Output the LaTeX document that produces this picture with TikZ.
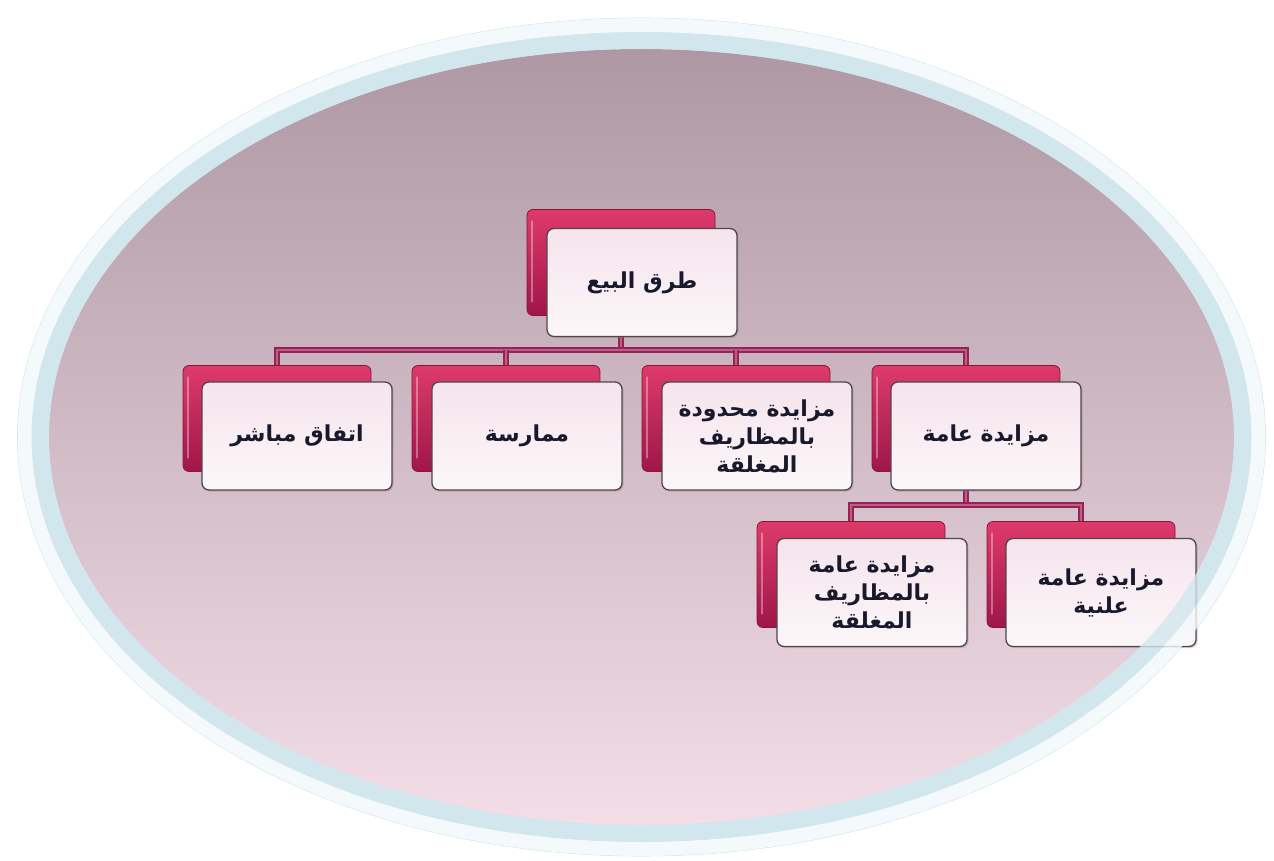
\documentclass[tikz,border=0pt]{standalone}
\usepackage{fontspec}
\newfontfamily\arabicfont[Script=Arabic]{DejaVu Sans}
\TeXXeTstate=1
\usetikzlibrary{shadows}
\definecolor{magtop}{RGB}{222,58,108}
\definecolor{magbot}{RGB}{160,22,72}
\definecolor{magdraw}{RGB}{135,20,60}
\definecolor{fronttop}{RGB}{245,228,236}
\definecolor{frontbot}{RGB}{252,247,249}
\definecolor{frontdraw}{RGB}{80,70,76}
\definecolor{textcol}{RGB}{25,25,45}
\definecolor{connout}{RGB}{145,38,85}
\definecolor{connin}{RGB}{192,92,134}
\definecolor{ringblue}{RGB}{210,231,237}
\definecolor{ringwhite}{RGB}{244,250,251}
\definecolor{ringline}{RGB}{200,222,228}
\definecolor{purtop}{RGB}{174,152,163}
\definecolor{purmid}{RGB}{204,178,191}
\definecolor{purbot}{RGB}{243,221,231}
\begin{document}
\begin{tikzpicture}[x=1pt,y=-1pt,
  backbox/.style={rectangle, rounded corners=6pt, minimum width=188pt, minimum height=106pt,
    top color=magtop, bottom color=magbot, draw=magdraw, line width=0.8pt, inner sep=0pt,
    path picture={\draw[white, opacity=0.35, line width=2.5pt, line cap=round]
      ([xshift=5pt,yshift=-12pt]path picture bounding box.north west) --
      ([xshift=5pt,yshift=14pt]path picture bounding box.south west);}},
  frontbox/.style={rectangle, rounded corners=7pt, minimum width=190pt, minimum height=108pt,
    top color=fronttop, bottom color=frontbot, draw=frontdraw, line width=1.3pt, inner sep=0pt,
    drop shadow={opacity=0.35, shadow xshift=1.5pt, shadow yshift=-1.5pt},
    align=center, text=textcol, font=\arabicfont\bfseries\fontsize{22}{28}\selectfont},
  conn/.style={draw=connout, double=connin, line width=1.5pt, double distance=2.6pt}
]
\useasboundingbox (0,0) rectangle (1274,861);
\fill[white] (0,0) rectangle (1274,861);
% ellipse rings
\coordinate (c) at (641.5,437);
\fill[ringwhite] (c) ellipse [x radius=624pt, y radius=419pt];
\draw[ringline, line width=0.6pt] (c) ellipse [x radius=624pt, y radius=419pt];
\fill[ringblue] (c) ellipse [x radius=610pt, y radius=405pt];
\shade[top color=purtop, middle color=purmid, bottom color=purbot]
  (c) ellipse [x radius=592.5pt, y radius=388pt];
% back boxes
\coordinate (bus1) at (0,350);
\coordinate (bus2) at (0,505);
\node[backbox] (rb) at (621,262.5) {};
\node[backbox] (b1) at (277,418.5) {};
\node[backbox] (b2) at (506,418.5) {};
\node[backbox] (b3) at (736,418.5) {};
\node[backbox] (b4) at (966,418.5) {};
\node[backbox] (b5) at (851,574.5) {};
\node[backbox] (b6) at (1081,574.5) {};
% connectors
\draw[conn] (rb.south) -- (rb.south |- bus1);
\draw[conn] (b1.north) |- (b4.north |- bus1) -- (b4.north);
\draw[conn] (b2.north) -- (b2.north |- bus1);
\draw[conn] (b3.north) -- (b3.north |- bus1);
\draw[conn] (b4.south) -- (b4.south |- bus2);
\draw[conn] (b5.north) |- (b6.north |- bus2) -- (b6.north);
% front boxes
\node[frontbox] (fr) at (642,282.5) {\beginR طرق البيع\endR};
\node[frontbox] (f1) at (297,436) {\beginR اتفاق مباشر\endR};
\node[frontbox] (f2) at (527,436) {\beginR ممارسة\endR};
\node[frontbox] (f3) at (757,436) {\beginR مزايدة محدودة\endR\\\beginR بالمظاريف\endR\\\beginR المغلقة\endR};
\node[frontbox] (f4) at (986,436) {\beginR مزايدة عامة\endR};
\node[frontbox] (f5) at (872,592.5) {\beginR مزايدة عامة\endR\\\beginR بالمظاريف\endR\\\beginR المغلقة\endR};
\node[frontbox] (f6) at (1101,592.5) {\beginR مزايدة عامة\endR\\\beginR علنية\endR};
% ring overlay across the box that crosses the rim
\fill[ringblue, opacity=0.8, even odd rule] (c) ellipse [x radius=610pt, y radius=405pt]
  (c) ellipse [x radius=592.5pt, y radius=388pt];
\fill[ringwhite, opacity=0.8, even odd rule] (c) ellipse [x radius=624pt, y radius=419pt]
  (c) ellipse [x radius=610pt, y radius=405pt];
\end{tikzpicture}
\end{document}
